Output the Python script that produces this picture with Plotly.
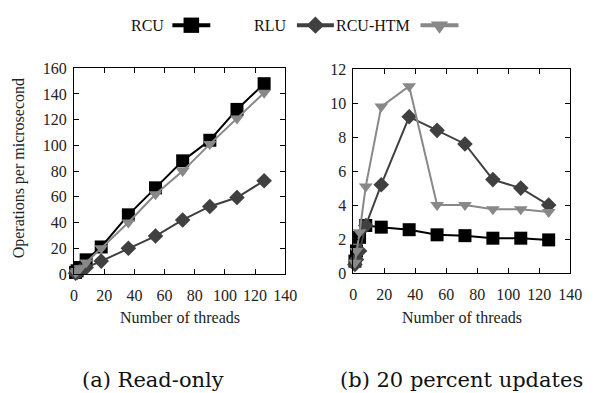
import plotly.graph_objects as go

# Thread counts used in both benchmarks
threads = [1, 2, 4, 8, 18, 36, 54, 72, 90, 108, 126]

# (a) Read-only: operations per microsecond
ro_rcu = [1.2, 2.5, 5, 11, 21, 46, 67, 88, 104, 128, 148]
ro_rlu = [0.6, 1.2, 2.4, 5, 10, 20, 29.5, 42, 52.5, 59.5, 72.5]
ro_htm = [1.1, 2.3, 4.5, 9, 20, 40, 62, 80, 101, 121, 141]

# (b) 20 percent updates: operations per microsecond
up_rcu = [0.7, 1.3, 2.1, 2.8, 2.7, 2.55, 2.25, 2.2, 2.05, 2.05, 1.95]
up_rlu = [0.5, 0.8, 1.3, 2.8, 5.2, 9.2, 8.4, 7.6, 5.5, 5.0, 4.0]
up_htm = [0.6, 1.3, 2.4, 5.1, 9.8, 11.0, 4.0, 4.0, 3.75, 3.75, 3.6]

series_names = ["RCU", "RLU", "RCU-HTM"]
colors = {"RCU": "#000000", "RLU": "#404040", "RCU-HTM": "#888888"}
symbols = {"RCU": "square", "RLU": "diamond", "RCU-HTM": "triangle-down"}
msizes = {"RCU": 13, "RLU": 12, "RCU-HTM": 12}

x_ticks = [0, 20, 40, 60, 80, 100, 120, 140]
left_y_ticks = [0, 20, 40, 60, 80, 100, 120, 140, 160]
right_y_ticks = [0, 2, 4, 6, 8, 10, 12]

captions = ["(a) Read-only", "(b) 20 percent updates"]
x_title = "Number of threads"
y_title = "Operations per microsecond"

W, H = 596, 393
FONT = "Liberation Serif"
CAP_FONT = "DejaVu Serif"

fig = go.Figure()

panels = [
    ("x", "y", {"RCU": ro_rcu, "RLU": ro_rlu, "RCU-HTM": ro_htm}),
    ("x2", "y2", {"RCU": up_rcu, "RLU": up_rlu, "RCU-HTM": up_htm}),
]
for xa, ya, data in panels:
    for name in series_names:
        fig.add_trace(go.Scatter(
            x=threads, y=data[name], mode="lines+markers", name=name,
            xaxis=xa, yaxis=ya, showlegend=False, cliponaxis=False,
            line=dict(color=colors[name], width=2),
            marker=dict(symbol=symbols[name], size=msizes[name],
                        color=colors[name], line=dict(width=0)),
        ))


def px_x(p):
    return p / W


def px_y(p):
    return 1 - p / H


axis_common = dict(
    showline=True, linecolor="black", linewidth=1, mirror="ticks",
    ticks="inside", ticklen=5, tickcolor="black", tickwidth=1,
    showgrid=False, zeroline=False,
    tickfont=dict(family=FONT, size=16, color="#222"),
)

fig.update_layout(
    width=W, height=H,
    margin=dict(l=0, r=0, t=0, b=0),
    paper_bgcolor="white", plot_bgcolor="white",
    font=dict(family=FONT),
    xaxis=dict(domain=[px_x(72), px_x(289)], range=[0, 140],
               tickvals=x_ticks, anchor="y", ticklabelstandoff=7, **axis_common),
    yaxis=dict(domain=[px_y(278), px_y(63)], range=[0, 160],
               tickvals=left_y_ticks, anchor="x", ticklabelstandoff=3, **axis_common),
    xaxis2=dict(domain=[px_x(359), px_x(582)], range=[0, 140],
                tickvals=x_ticks, anchor="y2", ticklabelstandoff=7, **axis_common),
    yaxis2=dict(domain=[px_y(277), px_y(64)], range=[0, 12],
                tickvals=right_y_ticks, anchor="x2", ticklabelstandoff=3, **axis_common),
)

annotations = []
# axis titles
for cx in (180.5, 470.5):
    annotations.append(dict(
        text=x_title, x=px_x(cx), y=px_y(324), xref="paper", yref="paper",
        showarrow=False, font=dict(family=FONT, size=16, color="#222"),
        xanchor="center", yanchor="middle"))
annotations.append(dict(
    text=y_title, x=px_x(15), y=px_y(168), xref="paper", yref="paper",
    showarrow=False, textangle=-90, font=dict(family=FONT, size=16, color="#222"),
    xanchor="center", yanchor="middle"))
# sub-figure captions
for text, cx in zip(captions, (153, 470)):
    annotations.append(dict(
        text=text, x=px_x(cx), y=px_y(389), xref="paper", yref="paper",
        showarrow=False, font=dict(family=CAP_FONT, size=21, color="#111"),
        xanchor="center", yanchor="middle"))

# key: label followed by a line sample with its marker
key_y = 18
key_items = [
    ("RCU", 166, 173, 212),
    ("RLU", 292, 301, 339),
    ("RCU-HTM", 419, 428, 467),
]
shapes = []
for name, text_right, l0, l1 in key_items:
    annotations.append(dict(
        text=name, x=px_x(text_right), y=px_y(key_y), xref="paper", yref="paper",
        showarrow=False, font=dict(family=FONT, size=16, color="#111"),
        xanchor="right", yanchor="middle"))
    shapes.append(dict(type="line", xref="paper", yref="paper",
                       x0=px_x(l0), x1=px_x(l1), y0=px_y(key_y), y1=px_y(key_y),
                       line=dict(color=colors[name], width=4)))
    cx = (l0 + l1) / 2
    if name == "RCU":
        h = 8
        pts = [(cx - h, key_y - h), (cx + h, key_y - h), (cx + h, key_y + h), (cx - h, key_y + h)]
    elif name == "RLU":
        h = 9
        pts = [(cx, key_y - h), (cx + h, key_y), (cx, key_y + h), (cx - h, key_y)]
    else:
        h = 9
        pts = [(cx - h, key_y - 4), (cx + h, key_y - 4), (cx, key_y + 9)]
    path = "M " + " L ".join(f"{px_x(a):.5f},{px_y(b):.5f}" for a, b in pts) + " Z"
    shapes.append(dict(type="path", xref="paper", yref="paper", path=path,
                       fillcolor=colors[name], line=dict(width=0)))

fig.update_layout(annotations=annotations, shapes=shapes)

fig.write_html("out.html")
